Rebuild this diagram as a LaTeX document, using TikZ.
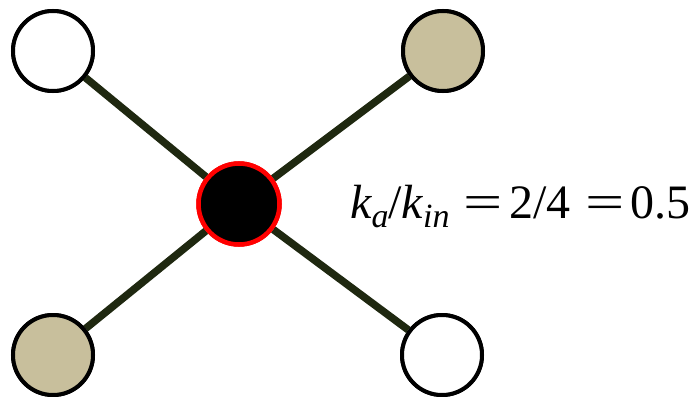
\documentclass[tikz,border=0pt]{standalone}
\usepackage{fontspec}
\newfontfamily\eqfont{Liberation Serif}
\definecolor{edgec}{HTML}{1F2810}
\definecolor{beige}{HTML}{C8BF9C}
\newcommand{\subit}[1]{\raisebox{-0.2em}{\fontsize{34}{34}\selectfont\eqfont\itshape #1}}
\newcommand{\wideeq}{\scalebox{1.45}[1]{=}}
\begin{document}
\begin{tikzpicture}[x=1pt,y=-1pt,
  vtx/.style={circle,draw=black,line width=4pt,minimum size=80pt,inner sep=0pt,fill=white},
  hub/.style={circle,draw=red,line width=4.5pt,minimum size=81pt,inner sep=0pt,fill=black},
  link/.style={draw=edgec,line width=7.5pt}]
\useasboundingbox (0,0) rectangle (695,396);
\node[vtx] (tl) at (53,51) {};
\node[vtx,fill=beige] (tr) at (443,51) {};
\node[vtx,fill=beige] (bl) at (53,355) {};
\node[vtx] (br) at (442,355) {};
\node[hub] (c) at (239,204) {};
\draw[link] (c) -- (tl);
\draw[link] (c) -- (tr);
\draw[link] (c) -- (bl);
\draw[link] (c) -- (br);
\node[vtx] at (tl) {};
\node[vtx,fill=beige] at (tr) {};
\node[vtx,fill=beige] at (bl) {};
\node[vtx] at (br) {};
\node[hub] at (c) {};
\node[anchor=base west,inner sep=0pt,font=\eqfont\fontsize{48}{48}\selectfont] (eq) at (350,218)
  {{\itshape k}\subit{a}/{\itshape k}\subit{in}\hspace{0.3em}\wideeq\hspace{0.13em}2/4\hspace{0.3em}\wideeq\hspace{0.13em}0.5};
\end{tikzpicture}
\end{document}
